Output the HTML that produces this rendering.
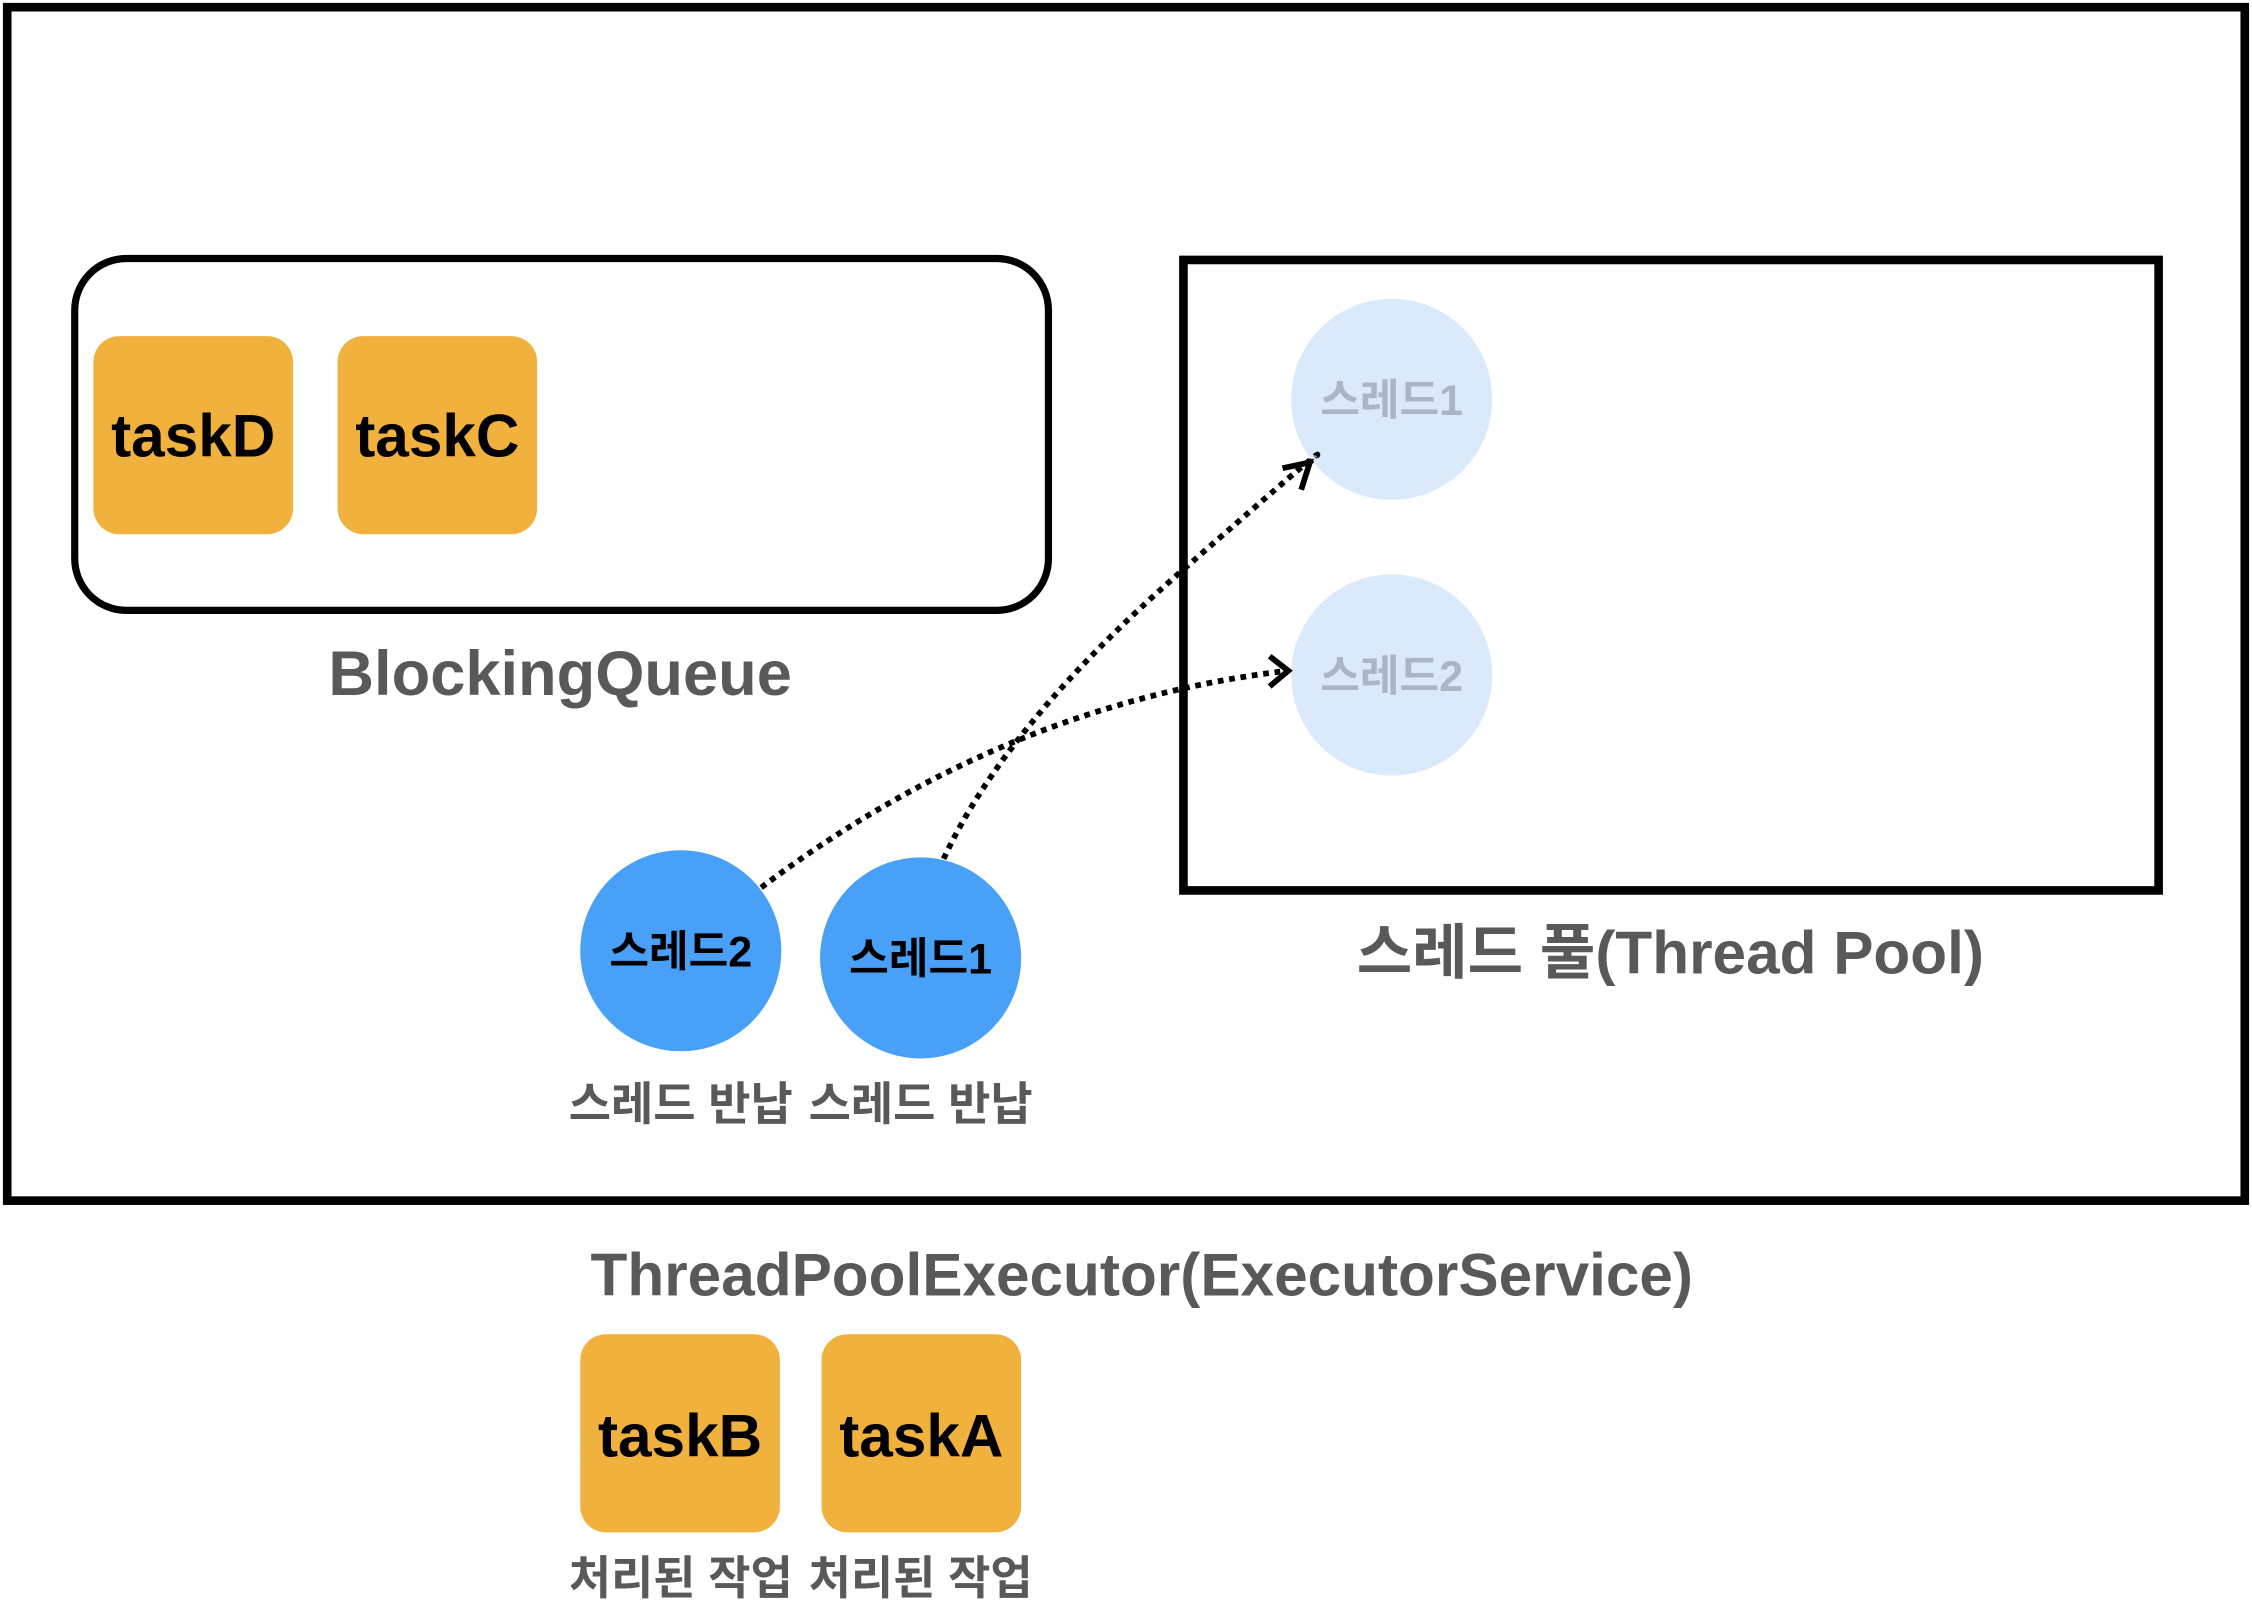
<!DOCTYPE html>
<html><head><meta charset="utf-8"><style>
html,body{margin:0;padding:0;background:#fff;}
svg{display:block;}
text{font-family:"Liberation Sans","Noto Sans CJK KR",sans-serif;font-weight:bold;}
</style></head><body>
<svg width="2252" height="1620" viewBox="0 0 1568 1128" xmlns="http://www.w3.org/2000/svg">
<rect x="5" y="5" width="1558" height="831" fill="none" stroke="#000" stroke-width="6"/>
<rect x="52" y="180" width="678" height="245" rx="36" fill="none" stroke="#000" stroke-width="5"/>
<rect x="65" y="234" width="139" height="138" rx="18" fill="#F0B13D"/>
<rect x="235" y="234" width="139" height="138" rx="18" fill="#F0B13D"/>
<text x="134.5" y="318" font-size="42" text-anchor="middle" fill="#000">taskD</text>
<text x="304.5" y="318" font-size="42" text-anchor="middle" fill="#000">taskC</text>
<text x="390" y="484" font-size="44" text-anchor="middle" fill="#595959">BlockingQueue</text>
<rect x="824" y="181" width="679" height="439" fill="none" stroke="#000" stroke-width="6"/>
<circle cx="969" cy="278" r="70" fill="#DAEAFB"/>
<circle cx="969" cy="470" r="70" fill="#DAEAFB"/>
<text x="969" y="289" font-size="30" text-anchor="middle" fill="#A9B6C4">스레드1</text>
<text x="969" y="481" font-size="30" text-anchor="middle" fill="#A9B6C4">스레드2</text>
<text x="1163" y="678" font-size="42" text-anchor="middle" fill="#595959">스레드 풀(Thread Pool)</text>
<circle cx="474" cy="662" r="70" fill="#48A0F7"/>
<circle cx="641" cy="667" r="70" fill="#48A0F7"/>
<text x="474" y="673" font-size="30" text-anchor="middle" fill="#000">스레드2</text>
<text x="641" y="678" font-size="30" text-anchor="middle" fill="#000">스레드1</text>
<text x="474" y="780" font-size="32" text-anchor="middle" fill="#595959">스레드 반납</text>
<text x="641" y="780" font-size="32" text-anchor="middle" fill="#595959">스레드 반납</text>
<g fill="none" stroke="#000" stroke-width="4" stroke-dasharray="4 4">
<path d="M657 598 Q700 505 820 400 T912 322"/>
<path d="M530 618 Q700 490 897 467"/>
</g>
<g fill="none" stroke="#000" stroke-width="4">
<path d="M893 326 L912 322 L906 341"/>
<path d="M884 457 L897 467 L884 478"/>
</g>
<text x="795" y="902" font-size="42" text-anchor="middle" fill="#595959">ThreadPoolExecutor(ExecutorService)</text>
<rect x="404" y="929" width="139" height="138" rx="18" fill="#F0B13D"/>
<rect x="572" y="929" width="139" height="138" rx="18" fill="#F0B13D"/>
<text x="473.5" y="1014" font-size="42" text-anchor="middle" fill="#000">taskB</text>
<text x="641.5" y="1014" font-size="42" text-anchor="middle" fill="#000">taskA</text>
<text x="474" y="1110" font-size="32" text-anchor="middle" fill="#595959">처리된 작업</text>
<text x="641" y="1110" font-size="32" text-anchor="middle" fill="#595959">처리된 작업</text>
</svg>
</body></html>
